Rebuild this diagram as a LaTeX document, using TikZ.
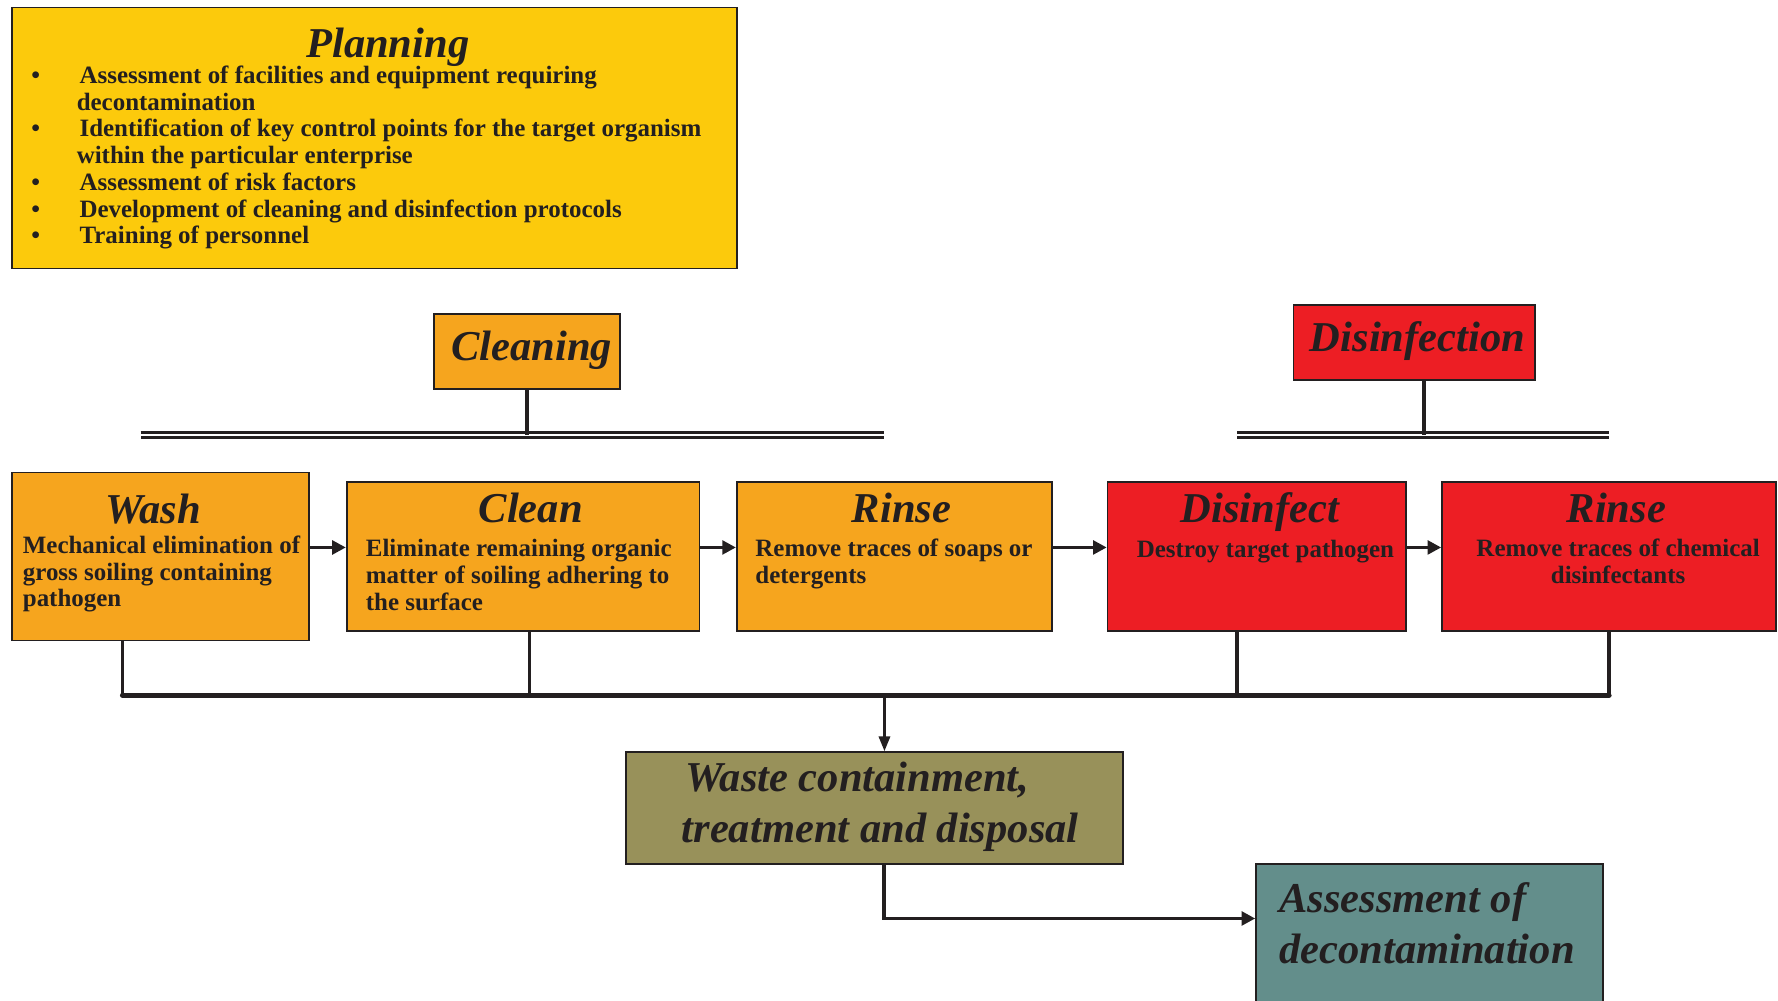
\documentclass[tikz,border=0pt]{standalone}
\usepackage{fontspec}
\setmainfont{Liberation Serif}
\usetikzlibrary{arrows.meta,calc}
\definecolor{ink}{RGB}{35,31,32}
\definecolor{planY}{RGB}{252,202,12}
\definecolor{orangeB}{RGB}{246,165,30}
\definecolor{redB}{RGB}{237,30,36}
\definecolor{oliveB}{RGB}{152,145,90}
\definecolor{tealB}{RGB}{99,142,139}
\newcommand\mylines[2]{\begin{tabular}[t]{@{}#1@{}}#2\end{tabular}}
\begin{document}
\begin{tikzpicture}[x=1pt,y=-1pt,
  box/.style={draw=ink, line width=1.5pt, inner sep=0pt, anchor=north west, rectangle},
  title/.style={font=\fontsize{37.5}{45}\selectfont\bfseries\itshape, text=ink, inner sep=0pt, anchor=base},
  body/.style={font=\fontsize{22}{23.6}\selectfont\bfseries, text=ink, inner sep=0pt, anchor=base west},
  link/.style={draw=ink, line width=3pt},
  busline/.style={draw=ink, line width=4.5pt, line cap=round},
  arr/.style={draw=ink, line width=3pt, -{Triangle[length=12pt,width=12pt]}},
  arrthin/.style={draw=ink, line width=2pt, -{Triangle[length=13pt,width=10pt]}},
  rail/.style={draw=ink, line width=2.4pt, double=white, double distance=2.4pt}]
\useasboundingbox (0,0) rectangle (1568,882);
\clip (0,0) rectangle (1568,882);

% Planning
\node[box, fill=planY, minimum width=639pt, minimum height=230pt] (planning) at (10,6) {};
\node[title] (planningT) at (342,50.6) {Planning};
\node[body] (planningL) at (27.5,73.5) {\mylines{l@{}l}{%
\makebox[42.5pt][l]{\textbullet} & Assessment of facilities and equipment requiring\\
 & \hspace{-2.5pt}decontamination\\
\makebox[42.5pt][l]{\textbullet} & Identification of key control points for the target organism\\
 & \hspace{-2.5pt}within the particular enterprise\\
\makebox[42.5pt][l]{\textbullet} & Assessment of risk factors\\
\makebox[42.5pt][l]{\textbullet} & Development of cleaning and disinfection protocols\\
\makebox[42.5pt][l]{\textbullet} & Training of personnel}};

% Group headers
\node[box, fill=orangeB, minimum width=164pt, minimum height=66pt] (cleaning) at (382,276) {};
\node[title] (cleaningT) at (469,317.6) {Cleaning};
\node[box, fill=redB, minimum width=213pt, minimum height=66pt] (disinfection) at (1140,268.4) {};
\node[title] (disinfectionT) at (1250,309.6) {Disinfection};

\coordinate (cbusL) at (124,383.6);
\coordinate (cbusR) at (780,383.6);
\coordinate (dbusL) at (1091,383.6);
\coordinate (dbusR) at (1419,383.6);
\draw[rail] (cbusL) -- (cbusR);
\draw[rail] (dbusL) -- (dbusR);
\draw[link] (cleaning.south) -- (cleaning.south |- cbusL);
\draw[link] ([xshift=8.5pt]disinfection.south) -- ([xshift=8.5pt]disinfection.south |- dbusL);

% Process row
\node[box, fill=orangeB, minimum width=262pt, minimum height=148pt] (wash) at (10,416) {};
\node[title] (washT) at (135,461.6) {Wash};
\node[body] (washB) at (20,488) {\mylines{l}{Mechanical elimination of\\gross soiling containing\\pathogen}};

\node[box, fill=orangeB, minimum width=311pt, minimum height=131pt] (clean) at (305,424.5) {};
\node[title] (cleanT) at (468,461) {Clean};
\node[body] (cleanB) at (322.5,491) {\mylines{l}{Eliminate remaining organic\\matter of soiling adhering to\\the surface}};

\node[box, fill=orangeB, minimum width=278pt, minimum height=131pt] (rinseA) at (649,424.5) {};
\node[title] (rinseAT) at (795,461) {Rinse};
\node[body] (rinseAB) at (666,491) {\mylines{l}{Remove traces of soaps or\\detergents}};

\node[box, fill=redB, minimum width=263pt, minimum height=131pt] (disinfect) at (976,424.5) {};
\node[title] (disinfectT) at (1111,461) {Disinfect};
\node[body, anchor=base] (disinfectB) at (1116,491.5) {Destroy target pathogen};

\node[box, fill=redB, minimum width=294.5pt, minimum height=131pt] (rinseB) at (1271,424.5) {};
\node[title] (rinseBT) at (1425.5,461) {Rinse};
\node[body, anchor=base] (rinseBB) at (1427,491) {\mylines{c}{Remove traces of chemical\\disinfectants}};

\coordinate (rowY) at (0,482.8);
\draw[arr] (wash.east |- rowY) -- (clean.west |- rowY);
\draw[arr] (clean.east |- rowY) -- (rinseA.west |- rowY);
\draw[arr] (rinseA.east |- rowY) -- (disinfect.west |- rowY);
\draw[arr] (disinfect.east |- rowY) -- (rinseB.west |- rowY);

% Collection bus
\coordinate (busY) at (0,613);
\coordinate (wd) at ([xshift=98pt]wash.south west);
\coordinate (cd) at ([xshift=162pt]clean.south west);
\coordinate (dd) at ([xshift=115pt]disinfect.south west);
\coordinate (rd) at ([xshift=148pt]rinseB.south west);
\draw[link] (wd) -- (wd |- busY);
\draw[link] (cd) -- (cd |- busY);
\draw[link] (dd) -- (dd |- busY);
\draw[link] (rd) -- (rd |- busY);
\draw[busline] (wd |- busY) -- (rd |- busY);

% Waste and assessment
\node[box, fill=oliveB, minimum width=438.5pt, minimum height=99pt] (waste) at (551,662.4) {};
\node[title, anchor=base west] (wasteT) at (604,698) {\mylines{l}{Waste containment,\\\hspace{-3pt}treatment and disposal}};
\node[box, fill=tealB, minimum width=306pt, minimum height=160pt] (assess) at (1107,761) {};
\node[title, anchor=base west] (assessT) at (1128,804.7) {\mylines{l}{Assessment of\\decontamination}};

\coordinate (wastein) at ([xshift=229pt]waste.north west);
\coordinate (wasteout) at ([xshift=229pt]waste.south west);
\coordinate (assessY) at (0,810);
\draw[arrthin] (wastein |- busY) -- (wastein);
\draw[arr, line width=3.5pt] (wasteout) |- (assess.west |- assessY);
\end{tikzpicture}
\end{document}
